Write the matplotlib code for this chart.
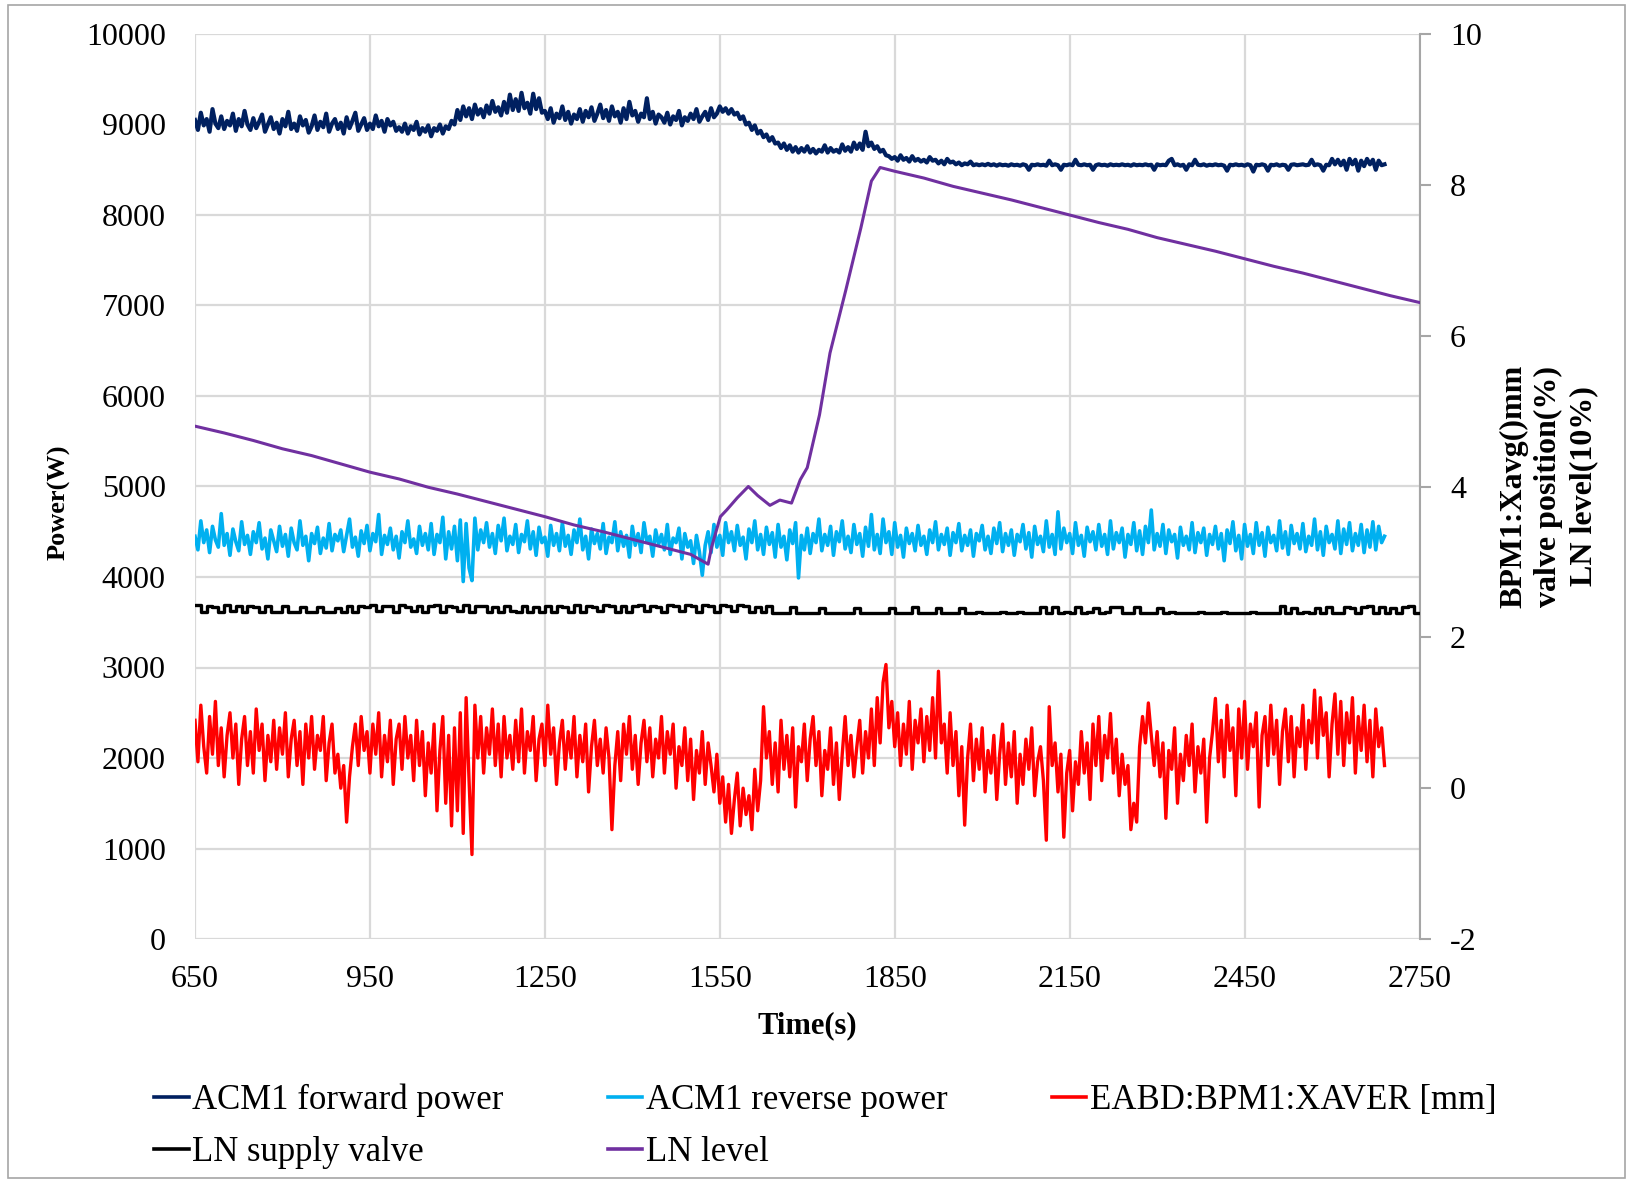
import numpy as np
import matplotlib
matplotlib.use("Agg")
import matplotlib.pyplot as plt
from matplotlib.lines import Line2D
from matplotlib.patches import Rectangle

plt.rcParams['font.family'] = ['Liberation Serif', 'DejaVu Serif']
plt.rcParams['axes.unicode_minus'] = False

# ---------------- data ----------------
t_start, t_step = 650, 5          # power / BPM series sampling
valve_start, valve_step = 650, 10  # valve sampling

forward_power = [
    9050, 8940, 9130, 8990, 9060, 8920, 9170, 9010, 8960, 9090,
    8950, 9040, 8990, 9120, 8930, 9060, 8980, 9150, 9000, 8940,
    9070, 8960, 9030, 9110, 8920, 9000, 9080, 8950, 9020, 8900,
    9060, 8980, 9140, 8950, 9010, 8930, 9090, 8990, 9050, 8910,
    8980, 9100, 8940, 9030, 8970, 9120, 8920, 9010, 9060, 8950,
    9020, 8900, 9080, 8960, 9040, 9130, 8930, 9000, 9070, 8940,
    9010, 8950, 9100, 8980, 9040, 8920, 9060, 8990, 9030, 8930,
    8970, 8920, 9010, 8900, 8980, 8940, 9030, 8890, 8960, 8920,
    8990, 8870, 8960, 8930, 9000, 8900, 8980, 8950, 9040, 9000,
    9160, 9050, 9200, 9090, 9180, 9060, 9220, 9110, 9170, 9080,
    9210, 9120, 9260, 9140, 9190, 9100, 9250, 9130, 9330, 9160,
    9280, 9150, 9350, 9180, 9240, 9120, 9340, 9170, 9290, 9130,
    9150, 9060, 9180, 9020, 9120, 9070, 9200, 9050, 9140, 9010,
    9110, 9060, 9170, 9030, 9150, 9080, 9190, 9040, 9120, 9220,
    9070, 9160, 9040, 9200, 9090, 9140, 9020, 9180, 9060, 9250,
    9100, 9150, 9030, 9120, 9080, 9290, 9060, 9140, 9010, 9110,
    9080, 9020, 9130, 9000, 9090, 9050, 9150, 8990, 9080, 9040,
    9120, 9060, 9170, 9030, 9090, 9140, 9050, 9180, 9080, 9120,
    9200, 9140, 9180, 9120, 9170, 9110, 9130, 9060, 9090, 9000,
    9020, 8940, 8990, 8900, 8930, 8860, 8890, 8820, 8860, 8790,
    8800, 8740, 8790, 8720, 8770, 8700, 8750, 8690, 8740, 8700,
    8760, 8690, 8730, 8680, 8720, 8700, 8770, 8690, 8740, 8700,
    8720, 8690, 8780, 8710, 8750, 8700, 8800, 8730, 8790, 8720,
    8920, 8760, 8800, 8730, 8760, 8700, 8720, 8660, 8650, 8620,
    8640, 8600, 8660, 8610, 8630, 8590, 8650, 8600, 8620, 8590,
    8610, 8580, 8640, 8600, 8610, 8570, 8600, 8560, 8620, 8580,
    8590, 8560, 8580, 8550, 8570, 8560, 8590, 8550, 8560, 8550,
    8560, 8550, 8565, 8550, 8560, 8545, 8560, 8550, 8555, 8545,
    8560, 8550, 8555, 8545, 8560, 8550, 8500, 8555, 8550, 8560,
    8550, 8555, 8545, 8600, 8550, 8560, 8550, 8500, 8555, 8550,
    8560, 8550, 8610, 8555, 8550, 8560, 8550, 8555, 8500, 8550,
    8560, 8550, 8555, 8545, 8560, 8550, 8555, 8550, 8560, 8550,
    8555, 8545, 8560, 8550, 8555, 8550, 8560, 8550, 8555, 8500,
    8560, 8550, 8555, 8550, 8600, 8620, 8550, 8560, 8545, 8555,
    8500, 8560, 8550, 8610, 8555, 8550, 8560, 8545, 8555, 8550,
    8560, 8550, 8555, 8545, 8490, 8555, 8550, 8560, 8550, 8555,
    8545, 8560, 8550, 8480, 8555, 8550, 8560, 8550, 8490, 8555,
    8550, 8560, 8545, 8555, 8550, 8500, 8555, 8560, 8550, 8555,
    8560, 8550, 8555, 8610, 8550, 8560, 8550, 8490, 8555, 8550,
    8620, 8560, 8610, 8550, 8600, 8500, 8620, 8560, 8610, 8490,
    8600, 8540, 8620, 8560, 8610, 8500, 8600, 8550, 8560,
]
reverse_power = [
    4450, 4300, 4620, 4380, 4520, 4270, 4560, 4410, 4330, 4700,
    4350, 4480, 4240, 4530, 4390, 4290, 4610, 4360, 4460, 4250,
    4500, 4380, 4600, 4310, 4430, 4200, 4520, 4400, 4280, 4560,
    4340, 4470, 4230, 4540, 4380, 4300, 4620, 4350, 4450, 4180,
    4480, 4370, 4550, 4260, 4430, 4320, 4590, 4290, 4470, 4400,
    4520, 4280, 4460, 4640, 4330, 4440, 4230, 4510, 4370, 4570,
    4290, 4480, 4390, 4690, 4250, 4460, 4360, 4540, 4300, 4450,
    4210, 4500, 4380, 4620, 4330, 4420, 4260, 4560, 4350, 4480,
    4300, 4590, 4250, 4470, 4380, 4660, 4200, 4500, 4310, 4560,
    4180, 4630, 3950, 4590, 4100, 3960, 4650, 4300, 4520, 4380,
    4600, 4330, 4480, 4260, 4570, 4400, 4650, 4290, 4450, 4360,
    4580, 4270, 4470, 4390, 4620, 4310, 4500, 4240, 4550, 4380,
    4440, 4230, 4570, 4350, 4480, 4290, 4600, 4340, 4460, 4250,
    4520, 4380, 4640, 4300, 4450, 4200, 4530, 4370, 4480, 4310,
    4590, 4260, 4440, 4380, 4610, 4290, 4500, 4340, 4460, 4220,
    4560, 4350, 4480, 4270, 4600, 4390, 4450, 4230, 4520, 4360,
    4470, 4300, 4580, 4250, 4430, 4380, 4540, 4200, 4480, 4330,
    4400, 4150, 4460, 4280, 4020, 4350, 4500, 4270, 4580, 4330,
    4460, 4240, 4600, 4380, 4500, 4290, 4570, 4350, 4440, 4200,
    4530, 4380, 4620, 4300, 4470, 4250, 4550, 4360, 4490, 4220,
    4580, 4330, 4450, 4190, 4520, 4370, 4600, 3990, 4460, 4300,
    4540, 4260, 4480, 4380, 4640, 4290, 4470, 4350, 4560, 4240,
    4500, 4390, 4620, 4310, 4450, 4270, 4580, 4360, 4480, 4230,
    4550, 4340, 4690, 4300, 4470, 4260, 4640, 4380, 4500, 4250,
    4600, 4330, 4460, 4220, 4540, 4370, 4480, 4290, 4570, 4350,
    4450, 4250, 4520, 4380, 4610, 4300, 4470, 4360, 4540, 4240,
    4490, 4380, 4590, 4290, 4460, 4350, 4520, 4230, 4480, 4400,
    4570, 4300, 4450, 4260, 4540, 4370, 4600, 4280, 4480, 4350,
    4520, 4240, 4470, 4390, 4580, 4310, 4490, 4220, 4560, 4360,
    4450, 4280, 4620, 4330, 4470, 4250, 4720, 4310, 4540, 4380,
    4480, 4260, 4600, 4350, 4460, 4230, 4550, 4390, 4500, 4300,
    4580, 4340, 4470, 4250, 4620, 4310, 4490, 4380, 4540, 4220,
    4470, 4360, 4600, 4290, 4510, 4250, 4560, 4380, 4740, 4300,
    4480, 4340, 4580, 4260, 4520, 4390, 4470, 4210, 4550, 4350,
    4450, 4300, 4600, 4270, 4490, 4380, 4540, 4240, 4470, 4360,
    4560, 4310, 4480, 4180, 4520, 4370, 4610, 4290, 4460, 4200,
    4580, 4340, 4470, 4260, 4600, 4350, 4490, 4230, 4550, 4380,
    4460, 4290, 4620, 4320, 4500, 4250, 4570, 4370, 4480, 4310,
    4590, 4280, 4450, 4350, 4640, 4300, 4500, 4240, 4560, 4380,
    4470, 4310, 4620, 4260, 4530, 4360, 4600, 4290, 4480, 4350,
    4580, 4270, 4520, 4330, 4610, 4300, 4560, 4380, 4450,
]
bpm_xaver = [
    0.90, 0.35, 1.10, 0.55, 0.20, 0.95, 0.45, 1.15, 0.30, 0.80,
    0.15, 0.70, 1.00, 0.40, 0.85, 0.05, 0.65, 0.95, 0.30, 0.75,
    0.20, 1.05, 0.50, 0.85, 0.10, 0.70, 0.35, 0.90, 0.25, 0.80,
    0.45, 1.00, 0.15, 0.65, 0.90, 0.30, 0.75, 0.05, 0.85, 0.40,
    0.95, 0.25, 0.70, 0.50, 0.95, 0.10, 0.60, 0.85, 0.20, 0.45,
    0.00, 0.30, -0.45, 0.15, 0.55, 0.85, 0.30, 0.95, 0.50, 0.75,
    0.20, 0.85, 0.45, 1.00, 0.15, 0.70, 0.35, 0.90, 0.05, 0.65,
    0.85, 0.25, 0.95, 0.40, 0.70, 0.10, 0.90, 0.30, 0.75, -0.10,
    0.60, 0.20, 0.85, -0.30, 0.50, 0.95, -0.20, 0.70, -0.50, 0.80,
    -0.30, 1.00, -0.60, 1.20, 0.10, -0.88, 1.10, 0.40, 0.95, 0.20,
    0.80, 0.45, 1.05, 0.30, 0.85, 0.15, 0.95, 0.40, 0.70, 0.25,
    0.90, 0.35, 1.05, 0.20, 0.75, 0.50, 0.95, 0.10, 0.65, 0.85,
    0.30, 1.10, 0.45, 0.80, 0.05, 0.60, 0.90, 0.25, 0.75, 0.40,
    0.95, 0.15, 0.70, 0.35, 0.85, -0.05, 0.55, 0.90, 0.30, 0.65,
    0.20, 0.80, 0.40, -0.55, 0.30, 0.75, 0.10, 0.85, 0.45, 0.95,
    0.25, 0.70, 0.05, 0.60, 0.90, 0.35, 0.80, 0.15, 0.65, 0.40,
    0.95, 0.20, 0.75, 0.45, 0.85, 0.00, 0.55, 0.30, 0.80, 0.10,
    0.65, -0.15, 0.50, 0.20, 0.75, 0.05, 0.60, 0.30, -0.05, 0.45,
    -0.20, 0.15, -0.45, 0.05, -0.60, -0.15, 0.20, -0.50, 0.00, -0.35,
    -0.10, -0.55, 0.25, -0.30, 0.10, 1.08, 0.40, 0.75, 0.05, 0.60,
    -0.05, 0.90, 0.25, 0.70, 0.15, 0.80, -0.25, 0.55, 0.35, 0.85,
    0.10, 0.65, 0.95, 0.30, 0.75, -0.10, 0.50, 0.25, 0.80, 0.05,
    0.60, -0.15, 0.45, 0.95, 0.30, 0.70, 0.15, 0.55, 0.90, 0.20,
    0.75, 0.40, 1.05, 0.30, 1.20, 0.60, 1.40, 1.64, 0.80, 1.15,
    0.55, 1.00, 0.30, 0.85, 0.45, 1.15, 0.25, 0.90, 0.60, 1.05,
    0.35, 0.95, 0.50, 1.20, 0.40, 1.55, 0.60, 0.85, 0.20, 1.00,
    0.30, 0.75, -0.10, 0.55, -0.49, 0.40, 0.85, 0.10, 0.65, 0.25,
    0.80, -0.05, 0.50, 0.20, 0.70, -0.15, 0.45, 0.85, 0.05, 0.60,
    0.15, 0.75, -0.20, 0.45, 0.05, 0.65, 0.25, 0.80, -0.10, 0.35,
    0.55, 0.10, -0.69, 1.08, 0.30, 0.60, -0.05, 0.45, -0.65, 0.20,
    0.50, -0.30, 0.35, 0.05, 0.75, 0.20, 0.60, -0.15, 0.85, 0.30,
    0.95, 0.10, 0.70, 0.40, 0.99, 0.20, 0.65, -0.10, 0.45, 0.05,
    0.30, -0.55, -0.20, -0.45, 0.55, 0.95, 0.60, 1.13, 0.70, 0.30,
    0.75, 0.15, 0.60, -0.40, 0.50, 0.25, 0.80, -0.20, 0.45, 0.10,
    0.70, 0.30, 0.85, -0.05, 0.55, 0.20, 0.65, -0.45, 0.40, 0.75,
    1.19, 0.35, 0.90, 0.15, 1.10, 0.50, 0.80, -0.10, 1.05, 0.40,
    1.15, 0.25, 0.85, 0.55, 1.00, -0.25, 0.70, 0.95, 0.30, 1.10,
    0.45, 0.90, 0.05, 0.75, 1.05, 0.35, 0.95, 0.15, 0.80, 0.55,
    1.10, 0.25, 0.90, 0.60, 1.30, 0.40, 1.20, 0.70, 1.00, 0.15,
    0.85, 1.25, 0.45, 1.15, 0.30, 1.00, 0.60, 1.20, 0.20, 0.95,
    0.50, 1.10, 0.35, 0.90, 0.15, 1.05, 0.55, 0.80, 0.30,
]
ln_supply_valve = [
    2.43, 2.34, 2.42, 2.40, 2.33, 2.43, 2.35, 2.41, 2.33, 2.42,
    2.40, 2.33, 2.42, 2.34, 2.33, 2.41, 2.33, 2.33, 2.40, 2.34,
    2.33, 2.40, 2.33, 2.33, 2.39, 2.33, 2.41, 2.34, 2.42, 2.40,
    2.43, 2.35, 2.42, 2.41, 2.34, 2.43, 2.40, 2.35, 2.42, 2.34,
    2.41, 2.43, 2.34, 2.42, 2.40, 2.35, 2.43, 2.33, 2.41, 2.42,
    2.34, 2.40, 2.33, 2.42, 2.35, 2.33, 2.41, 2.33, 2.40, 2.34,
    2.42, 2.33, 2.41, 2.40, 2.34, 2.43, 2.33, 2.42, 2.40, 2.35,
    2.43, 2.41, 2.34, 2.42, 2.33, 2.41, 2.43, 2.35, 2.42, 2.40,
    2.34, 2.43, 2.41, 2.35, 2.43, 2.42, 2.34, 2.43, 2.41, 2.33,
    2.43, 2.42, 2.35, 2.43, 2.41, 2.33, 2.40, 2.33, 2.41, 2.32,
    2.32, 2.32, 2.40, 2.32, 2.32, 2.32, 2.32, 2.39, 2.32, 2.32,
    2.32, 2.32, 2.32, 2.39, 2.32, 2.32, 2.32, 2.32, 2.32, 2.39,
    2.32, 2.32, 2.32, 2.40, 2.32, 2.32, 2.32, 2.39, 2.32, 2.32,
    2.32, 2.39, 2.32, 2.32, 2.33, 2.32, 2.32, 2.32, 2.33, 2.32,
    2.32, 2.33, 2.32, 2.32, 2.32, 2.40, 2.32, 2.40, 2.32, 2.33,
    2.32, 2.40, 2.32, 2.33, 2.39, 2.32, 2.33, 2.40, 2.40, 2.32,
    2.32, 2.40, 2.32, 2.32, 2.32, 2.39, 2.32, 2.33, 2.32, 2.32,
    2.32, 2.32, 2.33, 2.32, 2.32, 2.32, 2.33, 2.32, 2.32, 2.32,
    2.32, 2.33, 2.32, 2.32, 2.32, 2.32, 2.41, 2.32, 2.39, 2.32,
    2.33, 2.32, 2.39, 2.32, 2.40, 2.32, 2.32, 2.40, 2.39, 2.32,
    2.40, 2.41, 2.32, 2.40, 2.32, 2.39, 2.32, 2.40, 2.41, 2.32,
    2.32,
]
ln_level_t = [650, 700, 750, 800, 850, 900, 950, 1000, 1050, 1100, 1150, 1200,
              1250, 1300, 1350, 1400, 1450, 1500, 1530, 1536, 1551, 1562, 1580,
              1599, 1615, 1636, 1653, 1673, 1688, 1700, 1721, 1739, 1766, 1792,
              1810, 1825, 1850, 1900, 1950, 2000, 2050, 2100, 2150, 2200, 2250,
              2300, 2350, 2400, 2450, 2500, 2550, 2600, 2650, 2700, 2750]
ln_level = [4.80, 4.71, 4.61, 4.50, 4.41, 4.30, 4.19, 4.10, 3.99, 3.90, 3.80, 3.70,
            3.60, 3.49, 3.40, 3.30, 3.20, 3.10, 2.97, 3.20, 3.60, 3.69, 3.85,
            4.00, 3.88, 3.75, 3.82, 3.78, 4.09, 4.25, 4.95, 5.77, 6.60, 7.43,
            8.05, 8.23, 8.18, 8.09, 7.98, 7.89, 7.80, 7.70, 7.60, 7.50, 7.41,
            7.30, 7.21, 7.12, 7.02, 6.92, 6.83, 6.73, 6.63, 6.53, 6.44]

x_ticks = [650, 950, 1250, 1550, 1850, 2150, 2450, 2750]
left_ticks = [0, 1000, 2000, 3000, 4000, 5000, 6000, 7000, 8000, 9000, 10000]
right_ticks = [-2, 0, 2, 4, 6, 8, 10]

t_power = t_start + t_step * np.arange(len(forward_power))
t_bpm = t_start + t_step * np.arange(len(bpm_xaver))
t_valve = valve_start + valve_step * np.arange(len(ln_supply_valve))

# ---------------- figure ----------------
W, H = 1627, 1179
fig = plt.figure(figsize=(W / 100, H / 100), dpi=100)
fig.patches.append(Rectangle((8 / W, 1 / H), (W - 10) / W, (H - 6) / H,
                             transform=fig.transFigure, fill=False,
                             edgecolor='#a6a6a6', linewidth=1.2))

ax = fig.add_axes([195 / W, 1 - 939 / H, 1224.5 / W, 905 / H])
ax2 = ax.twinx()

c_fwd = '#002060'
c_rev = '#00b0f0'
c_red = '#ff0000'
c_valve = '#000000'
c_lvl = '#7030a0'

ax.plot(t_power, forward_power, color=c_fwd, lw=3.0, zorder=3)
ax.plot(t_power, reverse_power, color=c_rev, lw=2.6, zorder=3)
ax2.plot(t_bpm, bpm_xaver, color=c_red, lw=2.4, zorder=3)
ax2.plot(t_valve, ln_supply_valve, color=c_valve, lw=2.4,
         drawstyle='steps-post', zorder=3)
ax2.plot(ln_level_t, ln_level, color=c_lvl, lw=2.2, zorder=4)

ax.set_xlim(650, 2750)
ax.set_ylim(0, 10000)
ax2.set_ylim(-2, 10)
ax.set_xticks(x_ticks)
ax.set_yticks(left_ticks)
ax2.set_yticks(right_ticks)

grid_c = '#d9d9d9'
ax.grid(True, color=grid_c, linewidth=1.6)
ax.set_axisbelow(True)
for s in ['top', 'left', 'bottom', 'right']:
    ax.spines[s].set_visible(False)
for s in ['top', 'left', 'bottom']:
    ax2.spines[s].set_visible(False)
ax2.spines['right'].set_color('#a6a6a6')
ax2.spines['right'].set_linewidth(1.5)

fs_tick = 23
ax.tick_params(axis='x', length=0, pad=19, labelsize=fs_tick)
ax.tick_params(axis='y', length=0, pad=21, labelsize=fs_tick)
ax2.tick_params(axis='y', length=8, width=1.5, color='#a6a6a6', pad=14,
                labelsize=fs_tick, direction='out')

ax.set_xlabel('Time(s)', fontsize=22, fontweight='bold')
ax.xaxis.set_label_coords(0.5, -0.080)
ax.set_ylabel('Power(W)', fontsize=19, fontweight='bold', va='center')
ax.yaxis.set_label_coords(-0.111, 0.483)
ax2.set_ylabel('BPM1:Xavg()mm\nvalve position(%)\nLN level(10%)',
               fontsize=23, fontweight='bold', linespacing=1.25, va='center')
ax2.yaxis.set_label_coords(1.1055, 0.5)

handles = [Line2D([], [], color=c_fwd, lw=2.6), Line2D([], [], color=c_valve, lw=2.6),
           Line2D([], [], color=c_rev, lw=2.6), Line2D([], [], color=c_lvl, lw=2.6),
           Line2D([], [], color=c_red, lw=2.6)]
labels = ['ACM1 forward power', 'LN supply valve', 'ACM1 reverse power',
          'LN level', 'EABD:BPM1:XAVER [mm]']
fig.legend(handles, labels, ncol=3, loc='upper left',
           bbox_to_anchor=(140 / W, 1 - 1070 / H), frameon=False,
           fontsize=25, handlelength=1.0, handletextpad=0.1,
           columnspacing=3.0, labelspacing=0.55, borderaxespad=0)

fig.savefig('out.png', dpi=100)
